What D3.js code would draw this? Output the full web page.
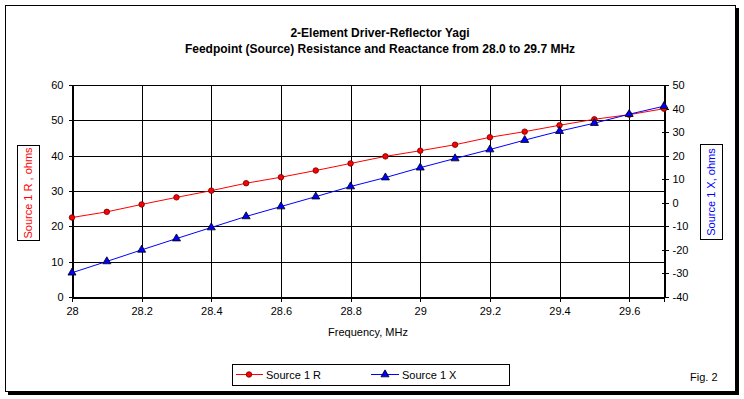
<!DOCTYPE html>
<html>
<head>
<meta charset="utf-8">
<script src="https://cdn.jsdelivr.net/npm/d3@7"></script>
<style>
  body { margin: 0; background: #fff; }
  text { font-family: "Liberation Sans", Arial, sans-serif; }
</style>
</head>
<body>
<svg id="chart" width="744" height="399"></svg>
<script>
// data
var freqs = [28.0, 28.1, 28.2, 28.3, 28.4, 28.5, 28.6, 28.7, 28.8, 28.9, 29.0, 29.1, 29.2, 29.3, 29.4, 29.5, 29.6, 29.7];
var sourceR = [22.5, 24.1, 26.2, 28.2, 30.1, 32.2, 33.9, 35.8, 37.8, 39.8, 41.4, 43.1, 45.2, 46.8, 48.6, 50.3, 51.6, 53.3];
var sourceX = [-29.7, -24.9, -20.0, -15.2, -10.5, -5.8, -1.6, 2.6, 6.9, 10.7, 14.9, 18.8, 22.6, 26.6, 30.4, 33.8, 37.6, 41.0];
var xTicks = [28, 28.2, 28.4, 28.6, 28.8, 29, 29.2, 29.4, 29.6];
var leftTicks = [0, 10, 20, 30, 40, 50, 60];
var rightTicks = [-40, -30, -20, -10, 0, 10, 20, 30, 40, 50];

drawChart();

function drawChart() {
    var svg = d3.select("#chart");

    // outer frame with shadow
    svg.append("rect").attr("x", 8).attr("y", 8).attr("width", 731).attr("height", 387).attr("fill", "#000");
    svg.append("rect").attr("x", 5.5).attr("y", 5.5).attr("width", 730).attr("height", 386)
        .attr("fill", "#fff").attr("stroke", "#000").attr("stroke-width", 1);

    var pLeft = 72, pTop = 85, pRight = 664, pBottom = 297;

    var x = d3.scaleLinear().domain([28, 29.7]).range([pLeft, pRight]);
    var yL = d3.scaleLinear().domain([0, 60]).range([pBottom, pTop]);
    var yR = d3.scaleLinear().domain([-40, 50]).range([pBottom, pTop]);

    //title
    var title = svg.append("text").attr("text-anchor", "middle")
        .style("font-size", "12px").style("font-weight", "bold");
    title.append("tspan").attr("x", 380).attr("y", 37).text("2-Element Driver-Reflector Yagi");
    title.append("tspan").attr("x", 380).attr("y", 53).text("Feedpoint (Source) Resistance and Reactance from 28.0 to 29.7 MHz");

    //gridlines
    var g = svg.append("g").attr("shape-rendering", "crispEdges");
    g.selectAll(".hg").data(leftTicks).enter().append("line")
        .attr("x1", pLeft).attr("x2", pRight)
        .attr("y1", function(d) { return Math.round(yL(d)) + 0.5; })
        .attr("y2", function(d) { return Math.round(yL(d)) + 0.5; })
        .attr("stroke", "#000");
    g.selectAll(".vg").data(xTicks.concat([29.7])).enter().append("line")
        .attr("y1", pTop).attr("y2", pBottom)
        .attr("x1", function(d) { return Math.round(x(d)) + 0.5; })
        .attr("x2", function(d) { return Math.round(x(d)) + 0.5; })
        .attr("stroke", "#000");

    //axes (plain hyphen for negatives, like the original)
    var plain = function(d) { return String(d); };
    var xAxis = d3.axisBottom(x).tickValues(xTicks).tickSize(4).tickPadding(6).tickFormat(plain);
    var gx = svg.append("g").attr("transform", "translate(0," + (pBottom + 0.5) + ")").call(xAxis);

    var yAxisL = d3.axisLeft(yL).tickValues(leftTicks).tickSize(4).tickPadding(5).tickFormat(plain);
    var gyl = svg.append("g").attr("transform", "translate(" + (pLeft + 0.5) + ",0)").call(yAxisL);

    var yAxisR = d3.axisRight(yR).tickValues(rightTicks).tickSize(4).tickPadding(4).tickFormat(plain);
    var gyr = svg.append("g").attr("transform", "translate(" + (pRight + 0.5) + ",0)").call(yAxisR);
    gyr.selectAll(".tick").append("line").attr("x2", -3).attr("stroke", "#000");

    [gx, gyl, gyr].forEach(function(a) {
        a.select(".domain").attr("stroke", "#000");
        a.selectAll("text").style("font-size", "11px").attr("fill", "#000")
            .style("font-family", "'Liberation Sans', Arial, sans-serif");
        a.attr("shape-rendering", "crispEdges");
    });

    //axis titles
    svg.append("text").attr("x", 368).attr("y", 336).attr("text-anchor", "middle")
        .style("font-size", "11px").text("Frequency, MHz");

    svg.append("rect").attr("x", 17.5).attr("y", 145.5).attr("width", 22).attr("height", 95)
        .attr("fill", "#fff").attr("stroke", "#000");
    svg.append("text").attr("transform", "translate(32,193) rotate(-90)").attr("text-anchor", "middle")
        .style("font-size", "11px").attr("fill", "#ff0000").text("Source 1 R ,  ohms");

    svg.append("rect").attr("x", 700.5).attr("y", 144.5).attr("width", 22).attr("height", 95)
        .attr("fill", "#fff").attr("stroke", "#000");
    svg.append("text").attr("transform", "translate(715,192) rotate(-90)").attr("text-anchor", "middle")
        .style("font-size", "11px").attr("fill", "#0000ff").text("Source 1 X,  ohms");

    //lines
    var lineR = d3.line().x(function(d, i) { return x(freqs[i]); }).y(function(d) { return yL(d); });
    var lineX = d3.line().x(function(d, i) { return x(freqs[i]); }).y(function(d) { return yR(d); });

    svg.append("path").datum(sourceR).attr("d", lineR).attr("fill", "none").attr("stroke", "#ff0000").attr("stroke-width", 1);
    svg.append("path").datum(sourceX).attr("d", lineX).attr("fill", "none").attr("stroke", "#0000ff").attr("stroke-width", 1);

    var circ = d3.symbol().type(d3.symbolCircle).size(24);
    var tri = d3.symbol().type(d3.symbolTriangle).size(28);

    svg.selectAll(".mr").data(sourceR).enter().append("path")
        .attr("d", circ)
        .attr("transform", function(d, i) { return "translate(" + x(freqs[i]) + "," + yL(d) + ")"; })
        .attr("fill", "#ff0000").attr("stroke", "#600").attr("stroke-width", 0.8);

    svg.selectAll(".mx").data(sourceX).enter().append("path")
        .attr("d", tri)
        .attr("transform", function(d, i) { return "translate(" + x(freqs[i]) + "," + yR(d) + ")"; })
        .attr("fill", "#0000ff").attr("stroke", "#000").attr("stroke-width", 0.8);

    //legend
    var lg = svg.append("g");
    lg.append("rect").attr("x", 232.5).attr("y", 364.5).attr("width", 277).attr("height", 21)
        .attr("fill", "#fff").attr("stroke", "#000");
    lg.append("line").attr("x1", 236).attr("x2", 263).attr("y1", 374.5).attr("y2", 374.5).attr("stroke", "#ff0000");
    lg.append("path").attr("d", circ).attr("transform", "translate(249,374.5)")
        .attr("fill", "#ff0000").attr("stroke", "#600").attr("stroke-width", 0.8);
    lg.append("text").attr("x", 266).attr("y", 378.5).style("font-size", "11px").text("Source 1 R");
    lg.append("line").attr("x1", 371).attr("x2", 399).attr("y1", 374.5).attr("y2", 374.5).attr("stroke", "#0000ff");
    lg.append("path").attr("d", tri).attr("transform", "translate(385,374.5)")
        .attr("fill", "#0000ff").attr("stroke", "#000").attr("stroke-width", 0.8);
    lg.append("text").attr("x", 402).attr("y", 378.5).style("font-size", "11px").text("Source 1 X");

    svg.append("text").attr("x", 690).attr("y", 381).style("font-size", "11px").text("Fig. 2");
}
</script>
</body>
</html>
